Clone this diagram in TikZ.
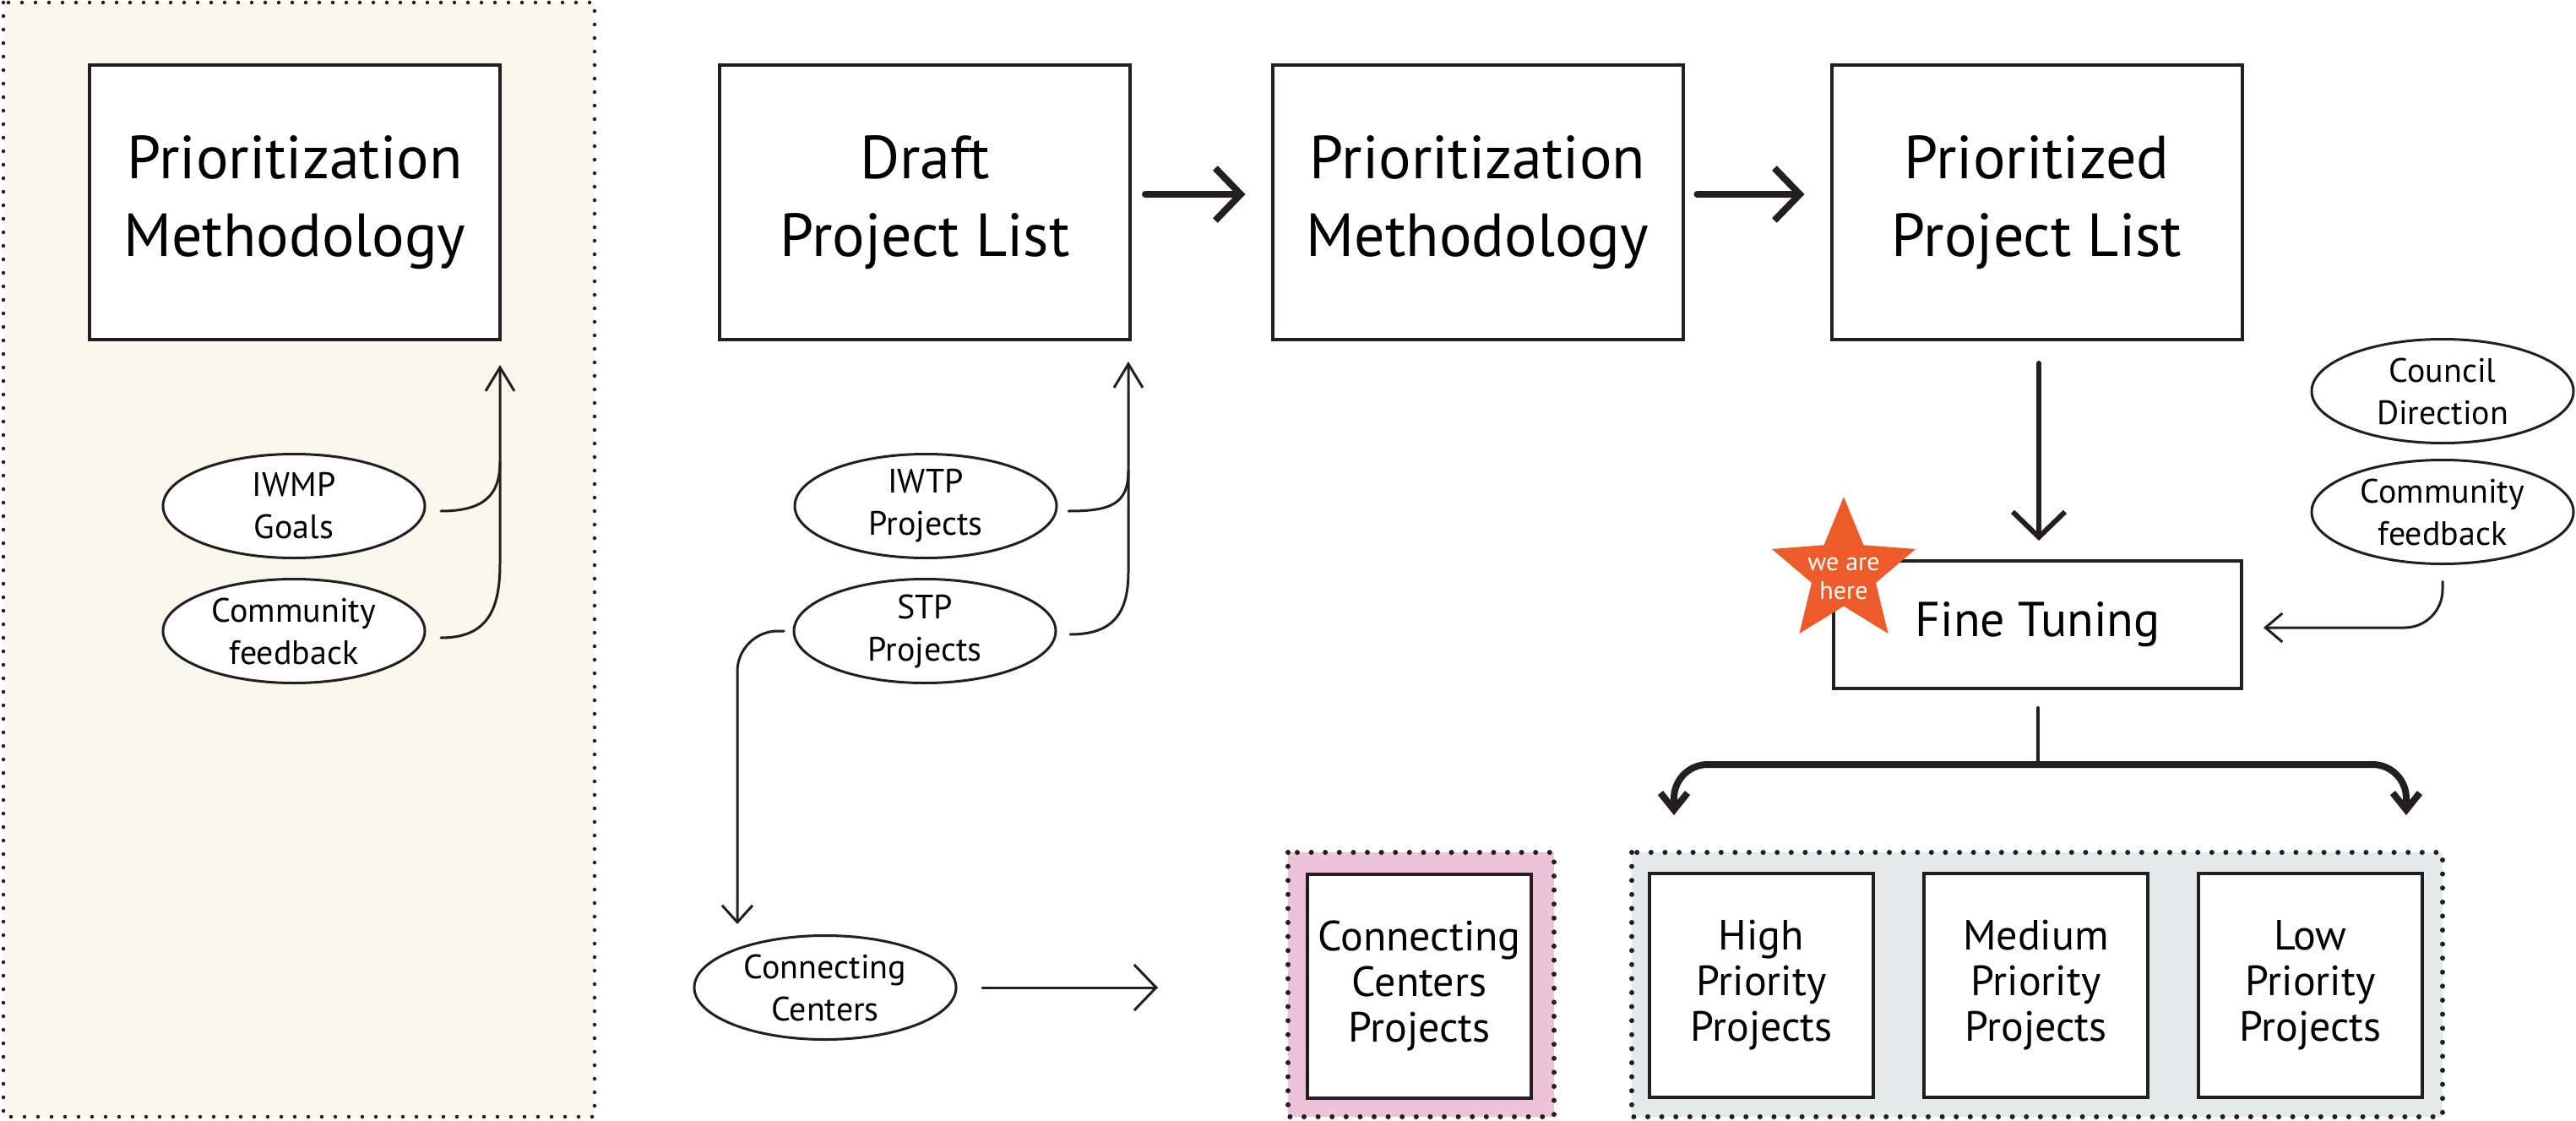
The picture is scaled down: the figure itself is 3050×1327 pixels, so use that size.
\documentclass[tikz,border=0pt]{standalone}
\usepackage{fontspec}
\setmainfont{PT Sans}
\usetikzlibrary{arrows.meta,shapes.geometric}
\definecolor{ink}{HTML}{231F20}
\definecolor{cream}{HTML}{F9F6EC}
\definecolor{pinkbg}{HTML}{ECC3D8}
\definecolor{graybg}{HTML}{E6E9E9}
\definecolor{starc}{HTML}{EE5B2B}
\begin{document}
\begin{tikzpicture}[x=1pt,y=-1pt,
  every node/.style={outer sep=0pt},
  bigbox/.style={draw=ink,line width=4pt,fill=white,minimum width=486pt,minimum height=325pt,inner sep=0pt,align=center,font=\fontsize{72}{92}\selectfont},
  midbox/.style={draw=ink,line width=3.5pt,fill=white,minimum width=483pt,minimum height=151pt,inner sep=0pt,align=center,font=\fontsize{58}{70}\selectfont},
  smallbox/.style={draw=ink,line width=4pt,fill=white,minimum width=265pt,minimum height=265pt,inner sep=0pt,align=center,font=\fontsize{50}{54}\selectfont},
  oval/.style={ellipse,draw=ink,line width=3pt,fill=white,minimum width=310pt,minimum height=123pt,inner sep=0pt,align=center,font=\fontsize{40}{50}\selectfont},
  conn/.style={draw=ink,line width=3pt,line cap=round},
  thickarr/.style={draw=ink,line width=8pt,line cap=round,-{Straight Barb[length=30pt,width=62pt]}},
  branch/.style={draw=ink,line width=8pt,line cap=round,rounded corners=40pt,-{Straight Barb[length=20pt,width=32pt]}},
  dotsmall/.style={draw=ink,line width=4.5pt,line cap=round,dash pattern=on 0pt off 16pt},
  dotbig/.style={draw=ink,line width=6pt,line cap=round,dash pattern=on 0pt off 16.6pt}
]
\useasboundingbox (0,0) rectangle (3050,1327);
\fill[white] (0,0) rectangle (3050,1327);

% panels
\filldraw[fill=cream,dotsmall] (4,3) rectangle (704,1322);
\filldraw[fill=pinkbg,dotbig] (1525,1009) rectangle (1840,1322);
\filldraw[fill=graybg,dotbig] (1932,1009) rectangle (2892,1322);

% main boxes
\node[bigbox] (pmL) at (349,239.5) {Prioritization\\Methodology};
\node[bigbox] (draft) at (1095,239.5) {Draft\\Project List};
\node[bigbox] (pm) at (1749.5,239.5) {Prioritization\\Methodology};
\node[bigbox] (pl) at (2411.5,239.5) {Prioritized\\Project List};
\node[midbox] (ft) at (2412.5,739.5) {Fine Tuning};

% ovals
\node[oval] (iwmp) at (348,599) {IWMP\\Goals};
\node[oval] (cfl) at (348,747) {Community\\feedback};
\node[oval] (iwtp) at (1096,599) {IWTP\\Projects};
\node[oval] (stp) at (1095,747) {STP\\Projects};
\node[oval] (cc) at (977,1169) {Connecting\\Centers};
\node[oval] (cd) at (2892,463) {Council\\Direction};
\node[oval] (cfr) at (2892,606) {Community\\feedback};

% result boxes
\node[smallbox] (ccp) at (1680.5,1167) {Connecting\\Centers\\Projects};
\node[smallbox] (hp) at (2085.5,1166) {High\\Priority\\Projects};
\node[smallbox] (mp) at (2410.5,1166) {Medium\\Priority\\Projects};
\node[smallbox] (lp) at (2735.5,1166) {Low\\Priority\\Projects};

% star
\node[star,star points=5,star point ratio=2.24,minimum size=179pt,inner sep=0pt,fill=starc] (star) at (2183,677.6) {};
\node[text=white,align=center,inner sep=0pt,font=\fontsize{30}{34}\selectfont] (startxt) at ([yshift=-7pt]star.center) {we are\\here};

% coordinates
\coordinate (mergeA) at (592,547);
\coordinate (joinA) at (592,667);
\coordinate (tipA) at (592,432);
\coordinate (mergeB) at (1336,557);
\coordinate (joinB) at (1336,677);
\coordinate (tipB) at (1336,428);
\coordinate (tipC) at (873,1094);
\coordinate (tipD) at (1371,1169);
\coordinate (tipE) at (2680,743);
\coordinate (brc) at ([yshift=-90pt]ft.south);
\coordinate (tipL) at (1982,965);
\coordinate (tipR) at (2849,965);

% left connectors
\draw[conn] ([xshift=19pt,yshift=-6pt]iwmp.east) .. controls +(50,0) and +(0,40) .. (mergeA);
\draw[conn,-{Straight Barb[length=28pt,width=34pt]}] ([xshift=19pt,yshift=-8pt]cfl.east) .. controls +(55,0) and +(0,55) .. (joinA) -- (tipA);

% middle connectors
\draw[conn] ([xshift=14pt,yshift=-6pt]iwtp.east) .. controls +(50,0) and +(0,40) .. (mergeB);
\draw[conn,-{Straight Barb[length=28pt,width=34pt]}] ([xshift=17pt,yshift=-4pt]stp.east) .. controls +(50,0) and +(0,50) .. (joinB) -- (tipB);
\draw[conn,rounded corners=48pt,-{Straight Barb[length=20pt,width=36pt]}] ([xshift=-12pt]stp.west) -| (tipC);
\draw[conn,-{Straight Barb[length=26pt,width=54pt]}] ([xshift=31pt]cc.east) -- (tipD);

% top flow
\draw[thickarr] ([xshift=18pt,yshift=9.5pt]draft.east) -- ([xshift=-32pt,yshift=9.5pt]pm.west);
\draw[thickarr] ([xshift=17pt,yshift=9.5pt]pm.east) -- ([xshift=-32pt,yshift=9.5pt]pl.west);
\draw[draw=ink,line width=6pt,line cap=round,-{Straight Barb[length=30pt,width=62pt]}] ([yshift=-28pt,xshift=2.5pt]pl.south) -- ([yshift=24pt,xshift=1.5pt]ft.north);

% feedback into fine tuning
\draw[conn,rounded corners=45pt,-{Straight Barb[length=20pt,width=34pt]}] ([yshift=-21pt]cfr.south) |- (tipE);

% branch
\draw[draw=ink,line width=4pt,line cap=round] ([yshift=-23pt]ft.south) -- (brc);
\draw[branch] (brc) -| (tipL);
\draw[branch] (brc) -| (tipR);
\end{tikzpicture}
\end{document}
